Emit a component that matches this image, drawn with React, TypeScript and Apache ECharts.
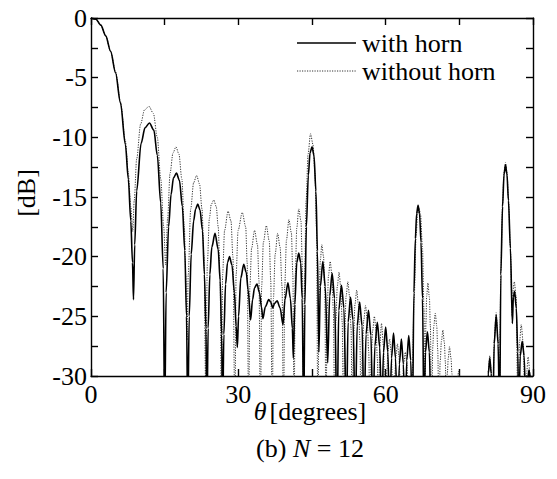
import { useEffect, useRef } from "react";
import * as echarts from "echarts";

// Axis ticks
const xTicks = [0, 30, 60, 90];
const yTicks = [0, -5, -10, -15, -20, -25, -30];

const seriesNames = ["with horn", "without horn"];

// [theta (deg), level (dB)]
const withHorn: [number, number][] = [
  [0, 0], [1, -0.1], [2, -0.6], [3, -1.5], [4, -2.8], [5, -4.6], [6, -7.1], [7, -10.6], [7.6, -13.5], [8.1, -17], [8.45, -20.5], [8.65, -23.6],
  [8.9, -19], [9.3, -14.5], [10.2, -10.5], [11.0, -9.2], [11.9, -8.8], [12.8, -9.4], [13.5, -11.5], [14.2, -15.5], [14.7, -21], [15.0, -34],
  [15.3, -23], [15.8, -17.5], [16.3, -14.8], [16.8, -13.4], [17.4, -13.0], [18.0, -13.6], [18.6, -15.8], [19.1, -19.5], [19.45, -25], [19.7, -34],
  [20.0, -25], [20.4, -19.8], [20.9, -17], [21.3, -16.0], [21.75, -15.6], [22.2, -16.1], [22.7, -17.8], [23.1, -21.5], [23.4, -26], [23.6, -34],
  [23.85, -26], [24.2, -21.5], [24.6, -19.2], [25.25, -18.05], [25.9, -19.4], [26.3, -22], [26.6, -26.5], [26.8, -34],
  [27.05, -26.5], [27.4, -22.3], [27.8, -20.5], [28.2, -20.0], [28.7, -20.7], [29.2, -23], [29.55, -25.8], [29.8, -27.6],
  [30.05, -25], [30.5, -21.8], [31.1, -20.65], [31.6, -21.3], [32.0, -22.8], [32.5, -25.3],
  [32.9, -23.6], [33.3, -22.6], [33.8, -22.3], [34.3, -23], [34.7, -24.2], [35.0, -25.2],
  [35.5, -24.2], [36.2, -23.6], [36.6, -23.8], [37.0, -24.3],
  [37.4, -23.9], [37.9, -23.7], [38.5, -24.3], [39.1, -25.7],
  [39.5, -23.6], [40.1, -22.2], [40.6, -23.5], [41.0, -26], [41.2, -28.5],
  [41.5, -24], [41.9, -20.5], [42.3, -19.7], [42.7, -20.5], [43.0, -23.5], [43.3, -34],
  [43.55, -24], [43.85, -17.5], [44.25, -13.2], [44.6, -11.3], [45.0, -10.8], [45.4, -11.5], [45.8, -14.5], [46.1, -19.5], [46.4, -28],
  [46.7, -22.5], [47.2, -20.4], [47.7, -22.5], [48.2, -28.9],
  [48.6, -23.3], [49.1, -21.4], [49.6, -23.5], [50.1, -34],
  [50.45, -24.5], [51.0, -22.4], [51.5, -24.3], [52.0, -34],
  [52.35, -25.5], [52.85, -23.4], [53.35, -25.3], [53.8, -34],
  [54.2, -25.8], [54.7, -23.8], [55.2, -25.8], [55.6, -34],
  [56.0, -26.5], [56.5, -24.5], [57.0, -26.6], [57.4, -34],
  [57.8, -27.5], [58.3, -25.5], [58.8, -27.6], [59.2, -34],
  [59.55, -28], [60.0, -25.9], [60.45, -28], [60.8, -34],
  [61.2, -28.5], [61.6, -26.4], [62.0, -28.5], [62.4, -34],
  [62.8, -29], [63.2, -26.9], [63.6, -29], [63.95, -34],
  [64.3, -28.7], [64.7, -26.6], [65.1, -28.7], [65.45, -34],
  [65.75, -23], [66.05, -18.5], [66.3, -16.4], [66.6, -15.7], [66.9, -16.4], [67.2, -18.8], [67.5, -23.5], [67.8, -34],
  [68.1, -28], [68.5, -26.3], [68.9, -28], [69.25, -34],
  [74, -38], [80.6, -34],
  [80.9, -29.8], [81.2, -28.5], [81.5, -29.8], [81.8, -34],
  [82.1, -27.3], [82.5, -24.9], [82.9, -27.3], [83.2, -34],
  [83.45, -21.5], [83.8, -15.8], [84.1, -13.1], [84.4, -12.3], [84.7, -13.1], [85.0, -15.3], [85.4, -19.3], [85.8, -25.6],
  [86.0, -23.4], [86.25, -22.9], [86.6, -24.3], [86.9, -28], [87.1, -34],
  [87.4, -28.3], [87.8, -27.1], [88.2, -28.3], [88.6, -34],
  [88.9, -30.3], [89.2, -29.5], [89.6, -30.8], [90, -33],
];

const withoutHorn: [number, number][] = [
  [0, 0], [1, -0.1], [2, -0.6], [3, -1.5], [4, -2.8], [5, -4.5], [6, -7.0], [7, -10.3], [7.6, -13], [8.1, -15.8], [8.5, -17.9],
  [8.8, -15.3], [9.3, -11.8], [10.1, -8.9], [10.9, -7.7], [11.8, -7.4], [12.7, -8], [13.5, -10], [14.2, -13.5], [14.8, -17.5], [15.2, -20.7],
  [15.6, -16.8], [16.1, -13], [16.7, -11.3], [17.3, -10.8], [17.9, -11.4], [18.5, -13.5], [19.0, -17.5], [19.3, -21.5], [19.55, -27],
  [19.8, -21.5], [20.3, -16], [20.9, -13.8], [21.5, -13.2], [22.1, -13.9], [22.6, -16], [23.0, -20], [23.35, -31],
  [23.7, -20.5], [24.1, -16.8], [24.5, -15.6], [25.0, -15.25], [25.5, -15.8], [25.9, -17.5], [26.3, -22], [26.55, -34],
  [26.8, -21.5], [27.2, -17.8], [27.9, -16.2], [28.5, -17], [28.9, -20], [29.3, -34],
  [29.55, -21.5], [29.95, -17.8], [30.8, -16.3], [31.5, -17.5], [31.8, -20.5], [32.1, -34],
  [32.35, -22.5], [32.7, -19.3], [33.3, -17.8], [33.9, -19], [34.2, -22], [34.5, -34],
  [34.75, -22.5], [35.1, -18.8], [35.7, -17.4], [36.3, -18.7], [36.6, -22], [36.9, -34],
  [37.15, -23.5], [37.5, -19.8], [38.0, -18.05], [38.5, -19.2], [38.9, -22.5], [39.2, -34],
  [39.45, -22.5], [39.8, -18.6], [40.3, -16.9], [40.8, -18], [41.1, -21.5], [41.35, -34],
  [41.6, -21.5], [41.9, -17.6], [42.3, -16.0], [42.75, -17], [43.05, -21], [43.3, -34],
  [43.5, -21.5], [43.8, -15.3], [44.2, -11.4], [44.7, -9.7], [45.2, -10.6], [45.6, -13], [45.9, -17.5], [46.2, -34],
  [46.45, -23.5], [46.7, -20.3], [47.0, -19.0], [47.35, -20], [47.6, -23], [47.85, -34],
  [48.1, -24.5], [48.35, -21.6], [48.7, -20.4], [49.05, -21.5], [49.35, -24.5], [49.6, -34],
  [49.85, -25.5], [50.15, -22.5], [50.5, -21.3], [50.85, -22.5], [51.15, -25.5], [51.4, -34],
  [51.65, -26.5], [51.95, -23.3], [52.3, -22.1], [52.65, -23.3], [52.95, -26], [53.2, -34],
  [53.45, -27], [53.75, -24], [54.1, -22.8], [54.45, -24], [54.75, -27], [55.0, -34],
  [55.25, -28], [55.55, -25.3], [55.9, -24.1], [56.25, -25.3], [56.55, -28], [56.8, -34],
  [57.05, -28.7], [57.35, -26.2], [57.7, -25.0], [58.05, -26.2], [58.3, -28.5], [58.5, -34],
  [58.8, -27.5], [59.15, -25.6], [59.55, -27.5], [59.95, -34],
  [60.25, -29.5], [60.5, -27.8], [60.8, -26.9], [61.1, -27.9], [61.35, -30], [61.6, -34],
  [61.85, -30], [62.1, -28.3], [62.4, -27.3], [62.7, -28.3], [62.95, -30.3], [63.2, -34],
  [63.45, -30.5], [63.7, -28.9], [64.0, -28.0], [64.3, -28.9], [64.55, -30.8], [64.8, -34],
  [65.3, -33], [65.8, -23.5], [66.2, -18.3], [66.5, -16.4], [66.8, -15.95], [67.1, -16.5], [67.5, -19.3], [67.8, -24.5], [68.0, -34],
  [68.2, -25.5], [68.35, -23.3], [68.6, -22.2], [68.9, -23.4], [69.1, -25.8], [69.35, -34],
  [69.6, -27.5], [69.8, -25.8], [70.1, -24.75], [70.4, -25.8], [70.6, -27.8], [70.85, -34],
  [71.1, -28.8], [71.35, -27.1], [71.65, -26.15], [71.95, -27.2], [72.15, -28.8], [72.35, -34],
  [72.55, -29.8], [72.75, -28.5], [73.0, -27.55], [73.3, -28.5], [73.5, -29.8], [73.75, -34],
  [74.5, -30.8], [74.85, -29.6], [75.2, -30.8], [75.6, -34],
  [78, -38], [80.6, -34],
  [80.9, -29.6], [81.2, -28.3], [81.5, -29.6], [81.8, -34],
  [82.1, -27], [82.5, -24.7], [82.9, -27], [83.15, -34],
  [83.45, -21.3], [83.8, -15.6], [84.1, -12.9], [84.4, -12.1], [84.7, -12.9], [85.0, -15.1], [85.4, -19.3], [85.75, -25],
  [85.95, -22.8], [86.2, -22.1], [86.55, -23.3], [86.95, -34],
  [87.25, -27.2], [87.6, -25.7], [88.0, -27.2], [88.4, -34],
  [88.7, -29.8], [89.0, -28.4], [89.4, -29.8], [89.8, -34], [90, -34],
];

const FONT = "Liberation Serif, Times New Roman, Times, serif";
const FS = 26;

export default function App() {
  const ref = useRef<HTMLDivElement>(null);
  useEffect(() => {
    if (!ref.current) return;
    const chart = echarts.init(ref.current, undefined, { renderer: "svg" });
    const lineC = { color: "#000", width: 1.4 };
    const mkX = (pos: "bottom" | "top", labels: boolean) => ({
      type: "value",
      position: pos,
      min: xTicks[0],
      max: xTicks[xTicks.length - 1],
      interval: xTicks[1] - xTicks[0],
      axisLine: { show: true, onZero: false, lineStyle: lineC },
      axisTick: { show: true, inside: true, length: 7, lineStyle: lineC },
      minorTick: { show: true, splitNumber: 2, length: 7, lineStyle: lineC },
      splitLine: { show: false },
      axisLabel: { show: labels, color: "#000", fontSize: FS, fontFamily: FONT, margin: 5 },
    });
    const mkY = (pos: "left" | "right", labels: boolean) => ({
      type: "value",
      position: pos,
      min: yTicks[yTicks.length - 1],
      max: yTicks[0],
      interval: yTicks[0] - yTicks[1],
      axisLine: { show: true, onZero: false, lineStyle: lineC },
      axisTick: { show: true, inside: true, length: 7, lineStyle: lineC },
      minorTick: { show: true, splitNumber: 2, length: 7, lineStyle: lineC },
      splitLine: { show: false },
      axisLabel: { show: labels, color: "#000", fontSize: FS, fontFamily: FONT, margin: 4 },
    });
    const txt = (text: string) => ({ text, fontSize: FS, fontFamily: FONT, fill: "#000" });
    chart.setOption({
      animation: false,
      backgroundColor: "#fff",
      textStyle: { fontFamily: FONT },
      grid: { left: 91, right: 24, top: 18, bottom: 103, containLabel: false },
      xAxis: [mkX("bottom", true), mkX("top", false)],
      yAxis: [mkY("left", true), mkY("right", false)],
      series: [
        {
          name: seriesNames[1],
          type: "line",
          xAxisIndex: 0,
          yAxisIndex: 0,
          data: withoutHorn,
          showSymbol: false,
          symbol: "none",
          smooth: 0.3,
          smoothMonotone: "x",
          clip: true,
          lineStyle: { color: "#333", width: 1, type: [1.2, 1.3] },
        },
        {
          name: seriesNames[0],
          type: "line",
          xAxisIndex: 0,
          yAxisIndex: 0,
          data: withHorn,
          showSymbol: false,
          symbol: "none",
          smooth: 0.3,
          smoothMonotone: "x",
          clip: true,
          lineStyle: { color: "#000", width: 1.6 },
        },
      ],
      graphic: [
        { type: "line", shape: { x1: 297, y1: 43, x2: 356, y2: 43 }, style: { stroke: "#000", lineWidth: 1.6 } },
        { type: "text", x: 362, y: 43, style: { ...txt(seriesNames[0]), verticalAlign: "middle", align: "left" } },
        { type: "line", shape: { x1: 297, y1: 71, x2: 356, y2: 71 }, style: { stroke: "#333", lineWidth: 1, lineDash: [1.2, 1.3] } },
        { type: "text", x: 362, y: 71, style: { ...txt(seriesNames[1]), verticalAlign: "middle", align: "left" } },
        {
          type: "text",
          x: 26,
          y: 193,
          rotation: Math.PI / 2,
          style: { ...txt("[dB]"), align: "center", verticalAlign: "middle" },
        },
        {
          type: "text",
          x: 310,
          y: 411,
          style: {
            text: "{i|θ}{r|[degrees]}",
            align: "center",
            verticalAlign: "middle",
            rich: {
              i: { fontFamily: FONT, fontSize: FS, fontStyle: "italic", fill: "#000", padding: [0, 3, 0, 0] },
              r: { fontFamily: FONT, fontSize: FS, fill: "#000" },
            },
          },
        },
        {
          type: "text",
          x: 310,
          y: 448,
          style: {
            text: "{r|(b) }{i|N}{r| = 12}",
            align: "center",
            verticalAlign: "middle",
            rich: {
              i: { fontFamily: FONT, fontSize: FS, fontStyle: "italic", fill: "#000" },
              r: { fontFamily: FONT, fontSize: FS, fill: "#000" },
            },
          },
        },
      ],
    });
    return () => chart.dispose();
  }, []);
  return <div ref={ref} style={{ position: "fixed", left: 0, top: 0, width: 557, height: 479 }} />;
}
